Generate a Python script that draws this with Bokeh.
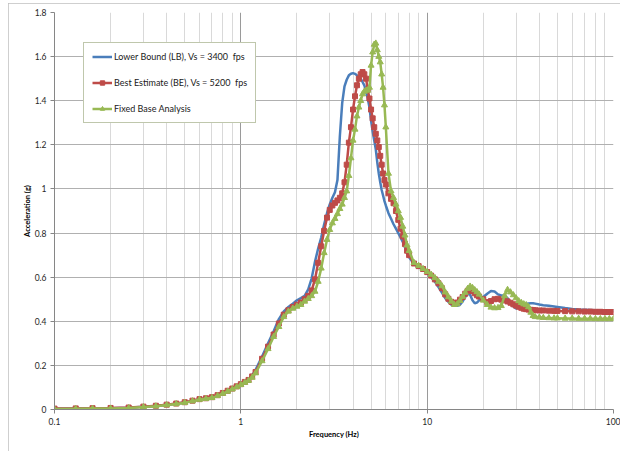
from bokeh.plotting import figure
from bokeh.models import FixedTicker, Legend, LegendItem, Range1d
from bokeh.embed import file_html
from bokeh.resources import INLINE

# ---------------- data ----------------
freq = [0.1, 0.13, 0.16, 0.2, 0.25, 0.3, 0.35, 0.4, 0.45, 0.5, 0.55, 0.6, 0.65, 0.7, 0.75, 0.8, 0.85, 0.9, 0.95, 1.0,
        1.05, 1.1, 1.15, 1.2,
        1.3, 1.4, 1.5, 1.6, 1.7, 1.8, 1.9, 2.0,
        2.1, 2.2, 2.3, 2.4, 2.5, 2.6, 2.7, 2.8, 2.9, 3.0,
        3.1, 3.2, 3.3, 3.4, 3.5, 3.6, 3.7, 3.8, 3.9, 4.0,
        4.1, 4.2, 4.3, 4.4, 4.5, 4.6, 4.7, 4.8, 4.9, 5.0,
        5.1, 5.2, 5.3, 5.4, 5.5, 5.6, 5.7, 5.8, 5.9, 6.0,
        6.2, 6.4, 6.6, 6.8, 7.0, 7.2, 7.4, 7.6, 7.8, 8.0,
        8.5, 9.0, 9.5, 10,
        10.5, 11, 11.5, 12, 12.5, 13, 13.5, 14, 14.5, 15, 15.5, 16, 16.5, 17, 17.5, 18, 18.5, 19,
        20, 21, 22, 23, 24, 25, 26, 27, 28, 29, 30, 31, 32, 33, 34, 35, 36, 37, 38,
        40, 42, 45, 48, 50,
        55, 60, 65, 70, 75, 80, 85, 90, 95, 100]

lower_bound = [0.003, 0.004, 0.005, 0.006, 0.008, 0.012, 0.016, 0.021, 0.026, 0.032, 0.039, 0.046, 0.05, 0.055, 0.064, 0.074, 0.084, 0.094, 0.104, 0.114,
               0.124, 0.135, 0.155, 0.18,
               0.24, 0.3, 0.355, 0.41, 0.445, 0.465, 0.48, 0.495,
               0.505, 0.515, 0.545, 0.595, 0.67, 0.73, 0.78, 0.84, 0.89, 0.93,
               0.96, 0.985, 1.04, 1.24, 1.39, 1.465, 1.495, 1.515, 1.522, 1.525,
               1.522, 1.515, 1.507, 1.5, 1.485, 1.47, 1.44, 1.41, 1.37, 1.31,
               1.26, 1.22, 1.18, 1.12, 1.07, 1.03, 0.995, 0.97, 0.945, 0.925,
               0.89, 0.865, 0.84, 0.82, 0.8, 0.78, 0.76, 0.735, 0.71, 0.69,
               0.66, 0.645, 0.633, 0.618,
               0.6, 0.58, 0.555, 0.53, 0.505, 0.488, 0.475, 0.47, 0.47, 0.475, 0.49, 0.51, 0.525, 0.52, 0.495, 0.482, 0.485, 0.495,
               0.51, 0.525, 0.537, 0.535, 0.522, 0.517, 0.517, 0.505, 0.485, 0.467, 0.458, 0.462, 0.468, 0.474, 0.478, 0.481, 0.482, 0.482, 0.48,
               0.476, 0.473, 0.47, 0.467, 0.465,
               0.46, 0.456, 0.453, 0.452, 0.451, 0.45, 0.45, 0.449, 0.449, 0.449]

best_estimate = [0.004, 0.005, 0.006, 0.007, 0.009, 0.013, 0.017, 0.022, 0.027, 0.033, 0.04, 0.047, 0.051, 0.056, 0.065, 0.075, 0.085, 0.095, 0.105, 0.115,
                 0.125, 0.134, 0.15, 0.17,
                 0.23, 0.285, 0.34, 0.39, 0.43, 0.45, 0.465, 0.475,
                 0.485, 0.5, 0.515, 0.54, 0.59, 0.665, 0.74, 0.81, 0.87, 0.905,
                 0.925, 0.937, 0.948, 0.96, 0.98, 1.03, 1.11, 1.21, 1.28, 1.36,
                 1.42, 1.47, 1.5, 1.52, 1.53, 1.52, 1.5, 1.45, 1.41, 1.36,
                 1.32, 1.28, 1.25, 1.22, 1.19, 1.15, 1.11, 1.07, 1.04, 1.02,
                 0.98, 0.955, 0.935, 0.9, 0.86, 0.82, 0.785, 0.75, 0.72, 0.7,
                 0.662, 0.65, 0.637, 0.623,
                 0.607, 0.59, 0.572, 0.55, 0.522, 0.502, 0.488, 0.48, 0.485, 0.498, 0.51, 0.525, 0.538, 0.543, 0.537, 0.527, 0.518, 0.512,
                 0.5, 0.487, 0.492, 0.5, 0.502, 0.498, 0.495, 0.49, 0.484, 0.477, 0.471, 0.466, 0.461, 0.457, 0.455, 0.453, 0.452, 0.451, 0.45,
                 0.449, 0.449, 0.448, 0.447, 0.447,
                 0.446, 0.445, 0.445, 0.444, 0.444, 0.443, 0.443, 0.442, 0.442, 0.442]

fixed_base = [0.002, 0.003, 0.004, 0.005, 0.007, 0.011, 0.015, 0.02, 0.025, 0.031, 0.038, 0.045, 0.049, 0.053, 0.062, 0.072, 0.082, 0.092, 0.102, 0.112,
              0.122, 0.131, 0.145, 0.165,
              0.22, 0.275, 0.33, 0.375, 0.42, 0.445, 0.458, 0.467,
              0.475, 0.49, 0.502, 0.515, 0.535, 0.58, 0.64, 0.71, 0.77, 0.815,
              0.845, 0.865, 0.887, 0.91, 0.93, 0.96, 0.99, 1.06, 1.14, 1.22,
              1.27, 1.33, 1.37, 1.4, 1.43, 1.442, 1.447, 1.447, 1.46, 1.56,
              1.62, 1.655, 1.66, 1.63, 1.6, 1.575, 1.52, 1.46, 1.38, 1.28,
              1.07, 0.99, 0.96, 0.93, 0.9, 0.87, 0.83, 0.79, 0.745, 0.72,
              0.665, 0.652, 0.638, 0.625,
              0.612, 0.597, 0.58, 0.56, 0.532, 0.51, 0.49, 0.475, 0.478, 0.493, 0.512, 0.53, 0.548, 0.558, 0.552, 0.542, 0.533, 0.522,
              0.495, 0.475, 0.463, 0.46, 0.461, 0.47, 0.515, 0.543, 0.532, 0.519, 0.505, 0.492, 0.484, 0.478, 0.474, 0.465, 0.44, 0.425, 0.42,
              0.418, 0.416, 0.415, 0.414, 0.414,
              0.413, 0.413, 0.412, 0.412, 0.412, 0.411, 0.411, 0.411, 0.411, 0.411]

series_names = ["Lower Bound (LB), Vs = 3400  fps",
                "Best Estimate (BE), Vs = 5200  fps",
                "Fixed Base Analysis"]

x_ticks = [0.1, 1, 10, 100]
x_tick_labels = ["0.1", "1", "10", "100"]
x_minor_ticks = [0.2, 0.3, 0.4, 0.5, 0.6, 0.7, 0.8, 0.9,
                 2, 3, 4, 5, 6, 7, 8, 9,
                 20, 30, 40, 50, 60, 70, 80, 90]
y_ticks = [0, 0.2, 0.4, 0.6, 0.8, 1, 1.2, 1.4, 1.6, 1.8]
y_tick_labels = ["0", "0.2", "0.4", "0.6", "0.8", "1", "1.2", "1.4", "1.6", "1.8"]

x_title = "Frequency (Hz)"
y_title = "Acceleration (g)"

# ---------------- styling ----------------
FONT = "Lato"
BLUE = "#4a7ebb"
RED = "#be4b48"
GREEN = "#98b954"

p = figure(width=612, height=448, x_axis_type="log",
           x_range=Range1d(0.1, 100), y_range=Range1d(0, 1.8),
           output_backend="svg", toolbar_location=None,
           min_border_left=46, min_border_right=7, min_border_top=9, min_border_bottom=42)
p.styles = {"margin-left": "8px", "margin-top": "3px",
            "outline": "1px solid #bfbfbf", "outline-offset": "-1px"}
p.outline_line_color = None
p.background_fill_color = "white"
p.border_fill_color = "white"

xt = FixedTicker(ticks=x_ticks, minor_ticks=x_minor_ticks)
p.xaxis.ticker = xt
p.xgrid.ticker = xt
p.xaxis.major_label_overrides = dict(zip(x_ticks, x_tick_labels))
yt = FixedTicker(ticks=y_ticks)
p.yaxis.ticker = yt
p.ygrid.ticker = yt
p.yaxis.major_label_overrides = dict(zip(y_ticks, y_tick_labels))

p.xgrid.grid_line_color = "#9a9a9a"
p.xgrid.minor_grid_line_color = "#d9d9d9"
p.ygrid.grid_line_color = "#b0b0b0"

for ax in (p.xaxis, p.yaxis):
    ax.axis_line_color = "#868686"
    ax.major_tick_line_color = "#868686"
    ax.major_tick_out = 4
    ax.major_tick_in = 0
    ax.minor_tick_out = 0
    ax.minor_tick_in = 0
    ax.major_label_text_font = FONT
    ax.major_label_text_font_size = "8.5px"
    ax.major_label_text_color = "#262626"
    ax.axis_label_text_font = FONT
    ax.axis_label_text_font_size = "7.5px"
    ax.axis_label_text_font_style = "bold"
    ax.axis_label_text_color = "#000000"

p.xaxis.major_label_standoff = 4
p.xaxis.axis_label = x_title
p.xaxis.axis_label_standoff = 2
p.yaxis.major_label_standoff = 4
p.yaxis.axis_label = y_title
p.yaxis.axis_label_standoff = 0

r_lb = p.line(freq, lower_bound, line_color=BLUE, line_width=2.5)
r_be = p.line(freq, best_estimate, line_color=RED, line_width=2.5)
r_be_m = p.scatter(freq, best_estimate, marker="square", size=5,
                   fill_color=RED, line_color=RED)
r_fb = p.line(freq, fixed_base, line_color=GREEN, line_width=2.5)
r_fb_m = p.scatter(freq, fixed_base, marker="triangle", size=6,
                   fill_color=GREEN, line_color=GREEN)

legend = Legend(items=[
    LegendItem(label=series_names[0], renderers=[r_lb]),
    LegendItem(label=series_names[1], renderers=[r_be, r_be_m]),
    LegendItem(label=series_names[2], renderers=[r_fb, r_fb_m]),
], location=(29, 286))
legend.margin = 0
legend.padding = 8
legend.spacing = 15
legend.glyph_width = 20
legend.glyph_height = 11
legend.label_height = 11
legend.label_standoff = 2
legend.label_text_font = FONT
legend.label_text_font_size = "9px"
legend.label_text_color = "#1a1a1a"
legend.border_line_color = "#7f905a"
legend.border_line_width = 1
legend.background_fill_color = "white"
legend.background_fill_alpha = 1
p.add_layout(legend)

open("out.html", "w").write(file_html(p, INLINE))
